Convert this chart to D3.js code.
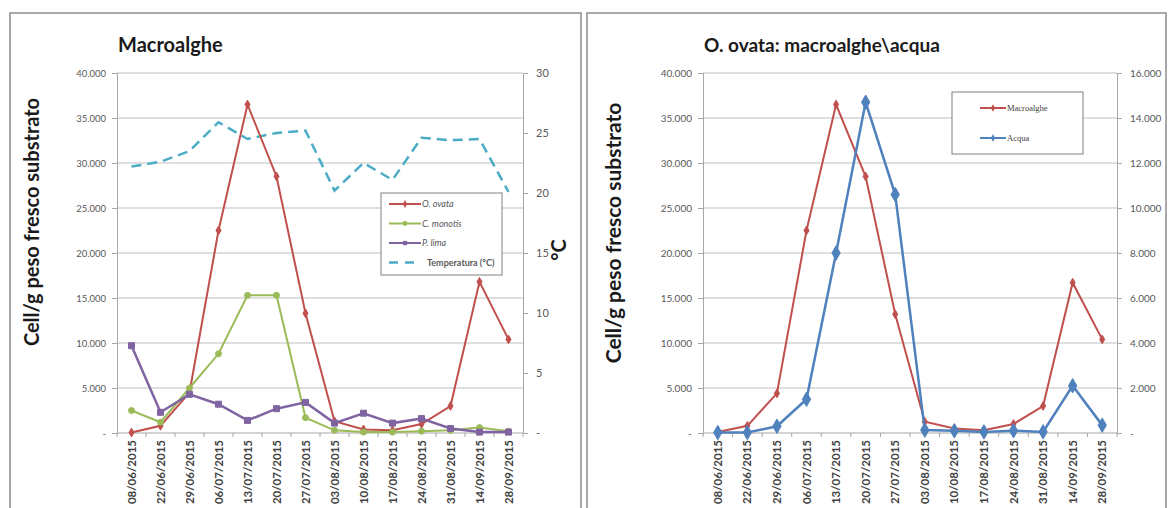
<!DOCTYPE html>
<html><head><meta charset="utf-8">
<script src="https://cdn.jsdelivr.net/npm/d3@7"></script>
<style>
html,body{margin:0;padding:0;background:#fff;}
svg{display:block;}
text{font-family:Lato,"Open Sans",sans-serif;}
</style></head>
<body>
<svg id="chart" width="1169" height="508"></svg>
<script>
// ---- data ----
const dates = ["08/06/2015","22/06/2015","29/06/2015","06/07/2015","13/07/2015","20/07/2015","27/07/2015","03/08/2015","10/08/2015","17/08/2015","24/08/2015","31/08/2015","14/09/2015","28/09/2015"];
const oOvata     = [50, 800, 4500, 22500, 36500, 28500, 13300, 1300, 400, 300, 1000, 3000, 16800, 10400];
const cMonotis   = [2500, 1200, 5000, 8800, 15300, 15300, 1700, 300, 100, 100, 200, 300, 600, 200];
const pLima      = [9700, 2300, 4300, 3200, 1400, 2700, 3400, 1100, 2200, 1100, 1600, 500, 100, 100];
const temperatura= [22.2, 22.6, 23.5, 25.9, 24.5, 25.0, 25.2, 20.2, 22.5, 21.1, 24.6, 24.4, 24.5, 20.1];
const macroalghe = [100, 800, 4400, 22500, 36500, 28500, 13200, 1250, 500, 300, 1000, 3000, 16700, 10400];
const acqua      = [20, 20, 300, 1500, 8000, 14700, 10600, 130, 100, 50, 100, 50, 2100, 350];
const leftTicks  = [0, 5000, 10000, 15000, 20000, 25000, 30000, 35000, 40000];
const tempTicks  = [0, 5, 10, 15, 20, 25, 30];
const acquaTicks = [0, 2000, 4000, 6000, 8000, 10000, 12000, 14000, 16000];

const C = {red:"#C0504D", green:"#9BBB59", purple:"#8064A2", cyan:"#4BACC6", blue:"#4F81BD"};
const loc = d3.formatLocale({decimal:",", thousands:".", grouping:[3], currency:["",""]});
const fmtN = v => v === 0 ? "-" : loc.format(",")(v);
const fmtT = v => v === 0 ? "-" : String(v);

const svg = d3.select("#chart");
const yTop = 73, yBot = 433;
const gridCol = "#BFBFBF", axisCol = "#A6A6A6", tickTxt = "#595959";

function frame(x0, x1){
  svg.append("rect").attr("x", x0).attr("y", 13).attr("width", x1 - x0).attr("height", 520)
    .attr("fill", "#fff").attr("stroke", "#8C8C8C").attr("stroke-width", 1.5);
}

function panel(o){
  const g = svg.append("g");
  const x = d3.scaleBand().domain(dates).range([o.x0, o.x1]);
  const cx = d => x(d) + x.bandwidth()/2;
  const yL = d3.scaleLinear().domain([0, 40000]).range([yBot, yTop]);
  const yR = d3.scaleLinear().domain(o.rDomain).range([yBot, yTop]);

  g.append("g").selectAll("line").data(leftTicks.slice(1)).join("line")
    .attr("x1", o.x0).attr("x2", o.x1).attr("y1", d => yL(d)).attr("y2", d => yL(d))
    .attr("stroke", gridCol).attr("stroke-width", 1);

  const ax = g.append("g").attr("transform", `translate(${o.x0},0)`)
    .call(d3.axisLeft(yL).tickValues(leftTicks).tickFormat(fmtN).tickSize(5).tickPadding(6));
  ax.select(".domain").attr("stroke", axisCol);
  ax.selectAll(".tick line").attr("stroke", axisCol);
  ax.selectAll(".tick text").attr("fill", tickTxt).attr("font-size", o.lFont).style("font-family","Lato");

  const ar = g.append("g").attr("transform", `translate(${o.x1},0)`)
    .call(d3.axisRight(yR).tickValues(o.rTicks).tickFormat(o.rFmt).tickSize(5).tickPadding(o.rPad));
  ar.select(".domain").attr("stroke", axisCol);
  ar.selectAll(".tick line").attr("stroke", axisCol);
  ar.selectAll(".tick text").attr("fill", tickTxt).attr("font-size", o.rFont).style("font-family","Lato");

  g.append("line").attr("x1", o.x0).attr("x2", o.x1).attr("y1", yBot).attr("y2", yBot).attr("stroke", axisCol);
  g.append("g").selectAll("line").data(dates).join("line")
    .attr("x1", d => x(d)).attr("x2", d => x(d)).attr("y1", yBot).attr("y2", yBot + 4)
    .attr("stroke", axisCol);
  g.append("line").attr("x1", o.x1).attr("x2", o.x1).attr("y1", yBot).attr("y2", yBot + 4).attr("stroke", axisCol);
  g.append("g").selectAll("text").data(dates).join("text")
    .attr("transform", d => `translate(${cx(d) + 4},${yBot + 7}) rotate(-90)`)
    .attr("text-anchor", "end").attr("font-size", 11.5).attr("font-weight", 700)
    .attr("fill", "#404040").text(d => d);

  g.append("text").attr("x", o.titleX).attr("y", 52).attr("font-size", o.titleFont).attr("font-weight", 700)
    .attr("fill", "#1a1a1a").text(o.title);
  g.append("text").attr("transform", `translate(${o.yTitleX},${o.yTitleY}) rotate(-90)`)
    .attr("text-anchor", "middle").attr("font-size", o.yTitleFont).attr("font-weight", 700)
    .attr("fill", "#1a1a1a").text("Cell/g peso fresco substrato");
  if (o.rTitle) {
    g.append("text").attr("transform", `translate(${o.rTitleX},250) rotate(-90)`)
      .attr("text-anchor", "middle").attr("font-size", 20).attr("font-weight", 700)
      .attr("fill", "#1a1a1a").text(o.rTitle);
  }
  return {g, x, cx, yL, yR};
}

function series(p, vals, y, color, opts){
  const line = d3.line().x((d,i) => p.cx(dates[i])).y(d => y(d));
  p.g.append("path").datum(vals).attr("d", line).attr("fill", "none")
    .attr("stroke", color).attr("stroke-width", opts.w || 2)
    .attr("stroke-dasharray", opts.dash || null);
  if (opts.marker) {
    const sym = d3.symbol().type(opts.marker).size(opts.msize || 25);
    p.g.append("g").selectAll("path").data(vals).join("path")
      .attr("transform", (d,i) => `translate(${p.cx(dates[i])},${y(d)})`)
      .attr("d", sym).attr("fill", color).attr("stroke", color);
  }
}

// ---- left panel ----
frame(10, 581);
const L = panel({x0:117, x1:523, rDomain:[0,30], rTicks:tempTicks, rFmt:fmtT, rPad:8, rFont:11, lFont:9.5,
  title:"Macroalghe", titleX:118, titleFont:20, yTitleX:39, yTitleY:222, yTitleFont:20, rTitle:"°C", rTitleX:566});
series(L, temperatura, L.yR, C.cyan, {w:2.5, dash:"10,6"});
series(L, oOvata, L.yL, C.red, {w:2, marker:d3.symbolDiamond, msize:22});
series(L, cMonotis, L.yL, C.green, {w:2, marker:d3.symbolCircle, msize:28});
series(L, pLima, L.yL, C.purple, {w:2.5, marker:d3.symbolSquare, msize:36});

const lg = svg.append("g");
lg.append("rect").attr("x", 381).attr("y", 193).attr("width", 121).attr("height", 82)
  .attr("fill", "#fff").attr("stroke", "#808080");
const lItems = [
  {name:"O. ovata", c:C.red, italic:true, marker:d3.symbolDiamond},
  {name:"C. monotis", c:C.green, italic:true, marker:d3.symbolCircle},
  {name:"P. lima", c:C.purple, italic:true, marker:d3.symbolSquare},
  {name:"Temperatura (°C)", c:C.cyan, italic:false, dash:true}
];
lItems.forEach((it, i) => {
  const yy = 204 + i * 19.5;
  lg.append("line").attr("x1", 389).attr("x2", 421).attr("y1", yy).attr("y2", yy)
    .attr("stroke", it.c).attr("stroke-width", it.dash ? 2.5 : 2)
    .attr("stroke-dasharray", it.dash ? "9,7" : null);
  if (it.marker) lg.append("path").attr("transform", `translate(405,${yy})`)
    .attr("d", d3.symbol().type(it.marker).size(18)).attr("fill", it.c);
  lg.append("text").attr("x", it.dash ? 427 : 422).attr("y", yy + 3).attr("font-size", 9)
    .attr("font-style", it.italic ? "italic" : "normal").attr("font-weight", it.dash ? 700 : 400)
    .attr("fill", "#595959").text(it.name);
});

// ---- right panel ----
frame(587, 1166);
const R = panel({x0:703, x1:1117, rDomain:[0,16000], rTicks:acquaTicks, rFmt:fmtN, rPad:8, rFont:10, lFont:10,
  title:"O. ovata: macroalghe\\acqua", titleX:704, titleFont:19, yTitleX:621, yTitleY:233, yTitleFont:21});
series(R, macroalghe, R.yL, C.red, {w:2, marker:d3.symbolDiamond, msize:22});
series(R, acqua, R.yR, C.blue, {w:2.5, marker:d3.symbolDiamond, msize:60});

const rg = svg.append("g");
rg.append("rect").attr("x", 952).attr("y", 92).attr("width", 131).attr("height", 62)
  .attr("fill", "#fff").attr("stroke", "#808080");
[{name:"Macroalghe", c:C.red, y:108},{name:"Acqua", c:C.blue, y:138}].forEach(it => {
  rg.append("line").attr("x1", 980).attr("x2", 1006).attr("y1", it.y).attr("y2", it.y)
    .attr("stroke", it.c).attr("stroke-width", 2);
  rg.append("path").attr("transform", `translate(993,${it.y})`)
    .attr("d", d3.symbol().type(d3.symbolDiamond).size(16)).attr("fill", it.c);
  rg.append("text").attr("x", 1007).attr("y", it.y + 3).attr("font-size", 8.5)
    .style("font-family", "'Liberation Serif',serif").attr("fill", "#404040").text(it.name);
});
</script>
</body></html>
